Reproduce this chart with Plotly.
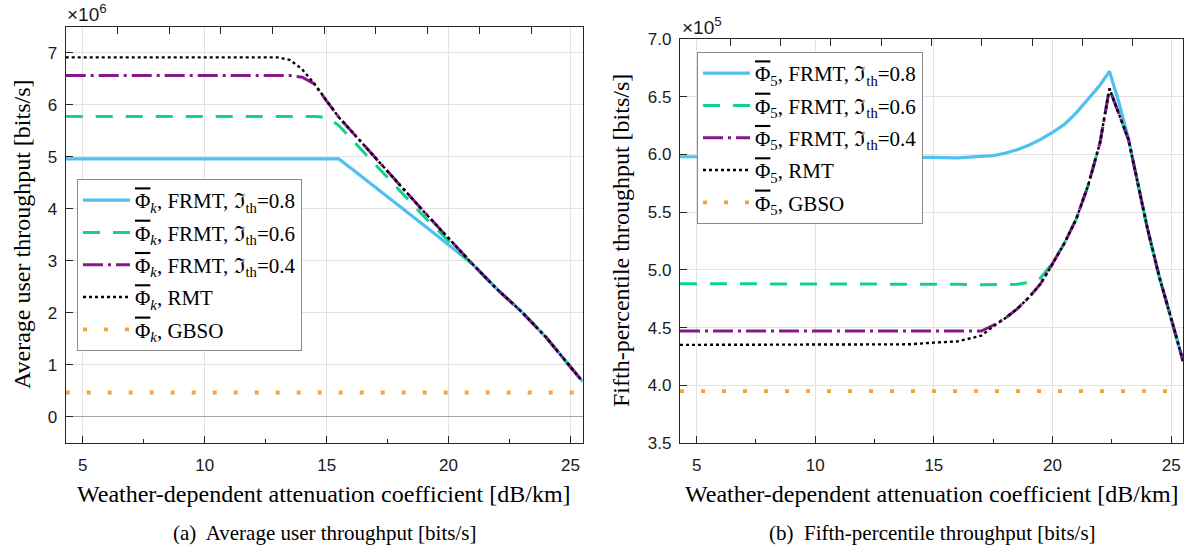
import plotly.graph_objects as go

# ---------------- data ----------------
# attenuation coefficient [dB/km]
x_avg = [4.3, 13.0, 13.5, 14.0, 14.5, 15.0, 15.5, 16.0, 17.0, 18.0, 19.0, 20.0,
         21.0, 22.0, 23.0, 24.0, 25.0, 25.5]
# average user throughput, in units of 1e6 bits/s
avg_frmt_08 = [4.96, 4.96, 4.96, 4.96, 4.96, 4.96, 4.96, 4.78, 4.42, 4.05, 3.68, 3.31,
               2.93, 2.45, 2.02, 1.53, 0.95, 0.68]
avg_frmt_06 = [5.775, 5.775, 5.775, 5.775, 5.775, 5.76, 5.60, 5.35, 4.86, 4.35, 3.85, 3.38,
               2.93, 2.45, 2.02, 1.53, 0.95, 0.68]
avg_frmt_04 = [6.56, 6.56, 6.56, 6.53, 6.40, 6.07, 5.76, 5.50, 4.99, 4.46, 3.94, 3.43,
               2.93, 2.45, 2.02, 1.53, 0.95, 0.68]
avg_rmt = [6.91, 6.91, 6.86, 6.68, 6.40, 6.07, 5.76, 5.50, 4.99, 4.46, 3.94, 3.43,
           2.93, 2.45, 2.02, 1.53, 0.95, 0.68]
avg_gbso = [0.47] * len(x_avg)

x_p5 = [4.3, 13.0, 14.0, 15.0, 16.0, 17.0, 17.5, 18.0, 18.5, 19.0, 19.5, 20.0, 20.5,
        21.0, 21.5, 22.0, 22.4, 22.8, 23.2, 24.0, 24.5, 25.0, 25.5]
# fifth-percentile throughput, in units of 1e5 bits/s
p5_frmt_08 = [5.98, 5.98, 5.98, 5.975, 5.97, 5.98, 5.99, 6.01, 6.04, 6.08, 6.13, 6.19, 6.26,
              6.36, 6.48, 6.60, 6.72, 6.45, 6.14, 5.36, 4.94, 4.58, 4.21]
p5_frmt_06 = [4.88, 4.88, 4.88, 4.88, 4.875, 4.87, 4.87, 4.87, 4.875, 4.89, 4.93, 5.06, 5.23,
              5.44, 5.73, 6.10, 6.57, 6.35, 6.13, 5.36, 4.94, 4.58, 4.21]
p5_frmt_04 = [4.47, 4.47, 4.47, 4.47, 4.47, 4.47, 4.52, 4.58, 4.66, 4.76, 4.88, 5.05, 5.23,
              5.44, 5.73, 6.10, 6.57, 6.35, 6.13, 5.36, 4.94, 4.58, 4.21]
p5_rmt = [4.35, 4.35, 4.355, 4.37, 4.38, 4.43, 4.51, 4.58, 4.66, 4.76, 4.88, 5.05, 5.23,
          5.44, 5.73, 6.10, 6.57, 6.35, 6.13, 5.36, 4.94, 4.58, 4.21]
p5_gbso = [3.95] * len(x_p5)

x_ticks = [5, 10, 15, 20, 25]

# ---------------- styles ----------------
SERIF = "Liberation Serif, Times New Roman, serif"
SANS = "Liberation Sans, Arial, sans-serif"
C_BLUE = "#4FC0F0"
C_GREEN = "#12D38D"
C_PURPLE = "#821A8C"
C_BLACK = "#000000"
C_ORANGE = "#F9A13E"
AX_COLOR = "#262626"
GRID = "#E3E3E3"

styles = [
    (C_BLUE, "solid", 3.2),
    (C_GREEN, "17px,13px", 3.0),
    (C_PURPLE, "20px,5px,3px,5px", 3.0),
    (C_BLACK, "dot", 2.4),
    (C_ORANGE, "4px,17px", 3.8),
]

# barred capital Phi
PHI = "<span style=\"text-decoration:overline\">\u03A6</span>"
names_avg = [
    PHI + "<sub><i>k</i></sub>, FRMT, \u2111<sub>th</sub>=0.8",
    PHI + "<sub><i>k</i></sub>, FRMT, \u2111<sub>th</sub>=0.6",
    PHI + "<sub><i>k</i></sub>, FRMT, \u2111<sub>th</sub>=0.4",
    PHI + "<sub><i>k</i></sub>, RMT",
    PHI + "<sub><i>k</i></sub>, GBSO",
]
names_p5 = [
    PHI + "<sub>5</sub>, FRMT, \u2111<sub>th</sub>=0.8",
    PHI + "<sub>5</sub>, FRMT, \u2111<sub>th</sub>=0.6",
    PHI + "<sub>5</sub>, FRMT, \u2111<sub>th</sub>=0.4",
    PHI + "<sub>5</sub>, RMT",
    PHI + "<sub>5</sub>, GBSO",
]

fig = go.Figure()

for i, (ys, name, (col, dash, w)) in enumerate(zip(
        [avg_frmt_08, avg_frmt_06, avg_frmt_04, avg_rmt, avg_gbso], names_avg, styles)):
    fig.add_trace(go.Scatter(x=x_avg, y=ys, mode="lines", name=name,
                             line=dict(color=col, dash=dash, width=w),
                             legendgroup=f"a{i}",
                             xaxis="x", yaxis="y", legend="legend"))

for i, (ys, name, (col, dash, w)) in enumerate(zip(
        [p5_frmt_08, p5_frmt_06, p5_frmt_04, p5_rmt, p5_gbso], names_p5, styles)):
    fig.add_trace(go.Scatter(x=x_p5, y=ys, mode="lines", name=name,
                             line=dict(color=col, dash=dash, width=w),
                             legendgroup=f"b{i}",
                             xaxis="x2", yaxis="y2", legend="legend2"))

# helper traces so the top tick axes are drawn
for xa, ya in (("x3", "y"), ("x4", "y2")):
    fig.add_trace(go.Scatter(x=[0, 1], y=[None, None], mode="lines", showlegend=False,
                             hoverinfo="skip", xaxis=xa, yaxis=ya))

W, H = 1194, 553


def px_x(p):
    return p / W


def px_y(p):
    return 1 - p / H


dom_x1 = [px_x(65.7), px_x(582.7)]
dom_x2 = [px_x(680), px_x(1183)]
dom_y1 = [px_y(443), px_y(26.7)]
dom_y2 = [px_y(443), px_y(39)]

xbase = dict(
    range=[4.3, 25.5], tickvals=x_ticks, ticks="inside", ticklen=7, tickwidth=1,
    tickcolor=AX_COLOR, showline=True, linecolor=AX_COLOR, linewidth=1.2, mirror=False,
    showgrid=True, gridcolor=GRID, gridwidth=1, zeroline=False, automargin=False,
    minor=dict(dtick=2.5, tick0=0, ticks="inside", ticklen=4, tickcolor=AX_COLOR, showgrid=False),
    tickfont=dict(family=SANS, size=17, color="#1a1a1a"), ticklabelstandoff=6,
)
ybase = dict(
    ticks="inside", ticklen=7, tickwidth=1, tickcolor=AX_COLOR, showline=True,
    linecolor=AX_COLOR, linewidth=1.2, mirror=True, showgrid=True, gridcolor=GRID,
    gridwidth=1, tickfont=dict(family=SANS, size=17, color="#1a1a1a"),
    ticklabelstandoff=4, automargin=False,
)
topbase = dict(
    side="top", range=[0, 1], dtick=0.1, tick0=0, ticks="inside", ticklen=7,
    tickcolor=AX_COLOR, showticklabels=False, showgrid=False, zeroline=False,
    showline=True, linecolor=AX_COLOR, linewidth=1.2, automargin=False,
)

legbase = dict(
    font=dict(family=SERIF, size=21, color="#000000"), bgcolor="white",
    bordercolor="#8a8a8a", borderwidth=1, xanchor="left", yanchor="top",
    itemwidth=47, tracegroupgap=2, itemclick=False, itemdoubleclick=False,
)

fig.update_layout(
    template="none",
    width=W, height=H, margin=dict(l=0, r=0, t=0, b=0, autoexpand=False),
    paper_bgcolor="white", plot_bgcolor="white", showlegend=True,
    xaxis=dict(xbase, domain=dom_x1, anchor="y"),
    yaxis=dict(ybase, domain=dom_y1, anchor="x", range=[-0.5, 7.5], dtick=1, tick0=0,
               zeroline=True, zerolinecolor="#A6A6A6", zerolinewidth=1),
    xaxis2=dict(xbase, domain=dom_x2, anchor="y2"),
    yaxis2=dict(ybase, domain=dom_y2, anchor="x2", range=[3.5, 7.0], dtick=0.5, tick0=3.5,
                tickformat=".1f", zeroline=False),
    xaxis3=dict(topbase, overlaying="x", anchor="y"),
    xaxis4=dict(topbase, overlaying="x2", anchor="y2"),
    legend=dict(legbase, x=px_x(77), y=px_y(179)),
    legend2=dict(legbase, x=px_x(697), y=px_y(52)),
)

title_font = dict(family=SERIF, size=24, color="#000000")
cap_font = dict(family=SERIF, size=21, color="#000000")
ann = [
    dict(text="Weather-dependent attenuation coefficient [dB/km]", x=px_x(324), y=px_y(494),
         font=title_font),
    dict(text="Weather-dependent attenuation coefficient [dB/km]", x=px_x(932), y=px_y(494),
         font=title_font),
    dict(text="Average user throughput [bits/s]", x=px_x(22), y=px_y(235), textangle=-90,
         font=title_font),
    dict(text="Fifth-percentile throughput [bits/s]", x=px_x(621), y=px_y(241), textangle=-90,
         font=title_font),
    dict(text="(a)  Average user throughput [bits/s]", x=px_x(324), y=px_y(533), font=cap_font),
    dict(text="(b)  Fifth-percentile throughput [bits/s]", x=px_x(932), y=px_y(533),
         font=cap_font),
    dict(text="\u00d710<sup>6</sup>", x=px_x(65), y=px_y(13), xanchor="left",
         font=dict(family=SANS, size=19, color="#1a1a1a")),
    dict(text="\u00d710<sup>5</sup>", x=px_x(680), y=px_y(26), xanchor="left",
         font=dict(family=SANS, size=19, color="#1a1a1a")),
]
for a in ann:
    a.setdefault("xanchor", "center")
    a.update(xref="paper", yref="paper", yanchor="middle", showarrow=False)
fig.update_layout(annotations=ann)

fig.write_html("out.html")
